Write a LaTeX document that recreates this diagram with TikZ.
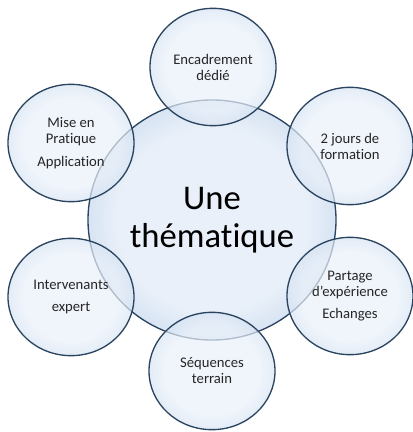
\documentclass[tikz,border=0pt]{standalone}
\usepackage{fontspec}
\setmainfont[Ligatures=NoCommon]{Carlito}
\usetikzlibrary{shapes.geometric}

% Colors
\definecolor{bubin}{HTML}{E9F0F9}
\definecolor{bubmid}{HTML}{CCDCEF}
\definecolor{bubout}{HTML}{7C9EC8}
\definecolor{bubline}{HTML}{2B4561}
\definecolor{txtcolor}{HTML}{262626}

% rim of the ellipse sits at about 35bp of the shading
\pgfdeclareradialshading{bubble}{\pgfpoint{0bp}{0bp}}{color(0bp)=(bubin); color(19bp)=(bubin); color(29bp)=(bubmid); color(35.4bp)=(bubout); color(50bp)=(bubout)}

\tikzset{
  bubble/.style={ellipse, draw=bubline, line width=1pt, shading=bubble,
    align=center, inner sep=0pt, text=txtcolor},
  satellite/.style={bubble, minimum width=94.5pt, minimum height=88pt,
    fill opacity=0.7, draw opacity=1, text opacity=1,
    font=\fontsize{11}{12}\selectfont},
  theme/.style={bubble, minimum width=186pt, minimum height=180pt,
    text=black, font=\fontsize{26}{28.5}\selectfont}
}

\begin{document}
\begin{tikzpicture}[x=0.75pt, y=-0.75pt]
  \useasboundingbox (0,0) rectangle (412,432);

  % central theme
  \node[theme] (theme) at (212,220) {Une\\thématique};

  % the six satellites round it
  \foreach \nm/\px/\py/\txt in {
      enc/213/67/{Encadrement\\dédié},
      form/350/146/{2 jours de\\formation},
      part/350/296/{Partage\\d’expérience\\[5pt]Echanges},
      seq/212/371/{Séquences\\terrain},
      inter/71/297/{Intervenants\\[5pt]expert},
      prat/71/143/{Mise en\\Pratique\\[5pt]Application}} {
    \node[satellite] (\nm) at (\px,\py) {\txt};
  }
\end{tikzpicture}
\end{document}
